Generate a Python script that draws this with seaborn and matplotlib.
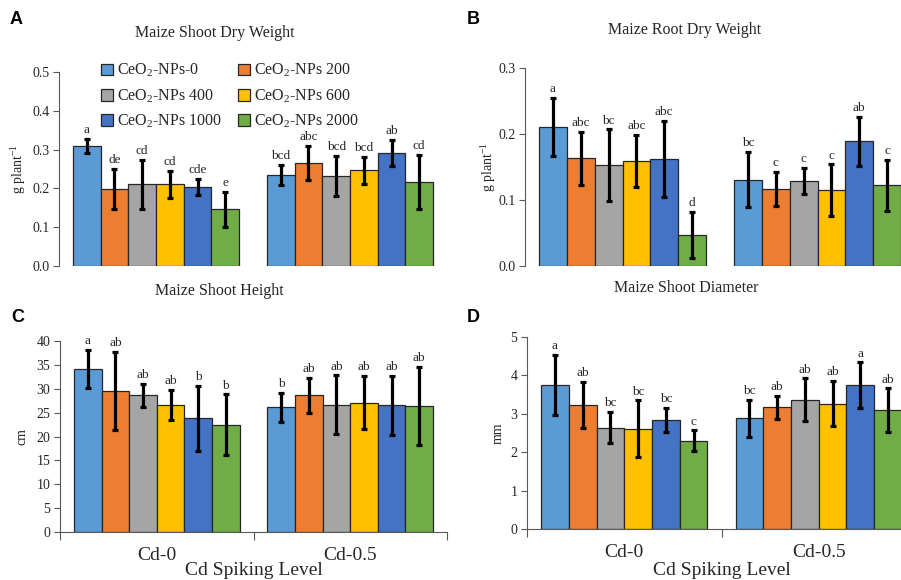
import numpy as np
import pandas as pd
import matplotlib
matplotlib.use("Agg")
import matplotlib.pyplot as plt
import matplotlib.transforms as mtransforms
import seaborn as sns

# ---- data -------------------------------------------------------------
cd_levels = ["Cd-0", "Cd-0.5"]
treatments = ["CeO$_2$-NPs-0", "CeO$_2$-NPs 200", "CeO$_2$-NPs 400",
              "CeO$_2$-NPs 600", "CeO$_2$-NPs 1000", "CeO$_2$-NPs 2000"]
colors = ["#5B9BD5", "#ED7D31", "#A5A5A5", "#FFC000", "#4472C4", "#70AD47"]

# values ordered Cd-0 (six treatments) then Cd-0.5 (six treatments)
shoot_dw_mean = [0.309, 0.199, 0.211, 0.211, 0.203, 0.146,
                 0.234, 0.265, 0.232, 0.247, 0.291, 0.216]
shoot_dw_err = [0.018, 0.051, 0.063, 0.035, 0.021, 0.046,
                0.026, 0.044, 0.052, 0.035, 0.034, 0.070]
shoot_dw_letters = ["a", "de", "cd", "cd", "cde", "e",
                    "bcd", "abc", "bcd", "bcd", "ab", "cd"]

root_dw_mean = [0.211, 0.163, 0.153, 0.159, 0.162, 0.047,
                0.131, 0.117, 0.129, 0.115, 0.189, 0.122]
root_dw_err = [0.044, 0.040, 0.054, 0.040, 0.058, 0.035,
               0.042, 0.026, 0.020, 0.039, 0.037, 0.039]
root_dw_letters = ["a", "abc", "bc", "abc", "abc", "d",
                   "bc", "c", "c", "c", "ab", "c"]

height_mean = [34.2, 29.6, 28.6, 26.6, 23.8, 22.5,
               26.1, 28.6, 26.7, 27.1, 26.5, 26.4]
height_err = [4.0, 8.2, 2.4, 3.2, 6.8, 6.3,
              3.1, 3.6, 6.1, 5.6, 6.2, 8.2]
height_letters = ["a", "ab", "ab", "ab", "b", "b",
                  "b", "ab", "ab", "ab", "ab", "ab"]

diam_mean = [3.76, 3.23, 2.64, 2.61, 2.84, 2.30,
             2.88, 3.17, 3.36, 3.26, 3.75, 3.09]
diam_err = [0.78, 0.61, 0.40, 0.74, 0.31, 0.27,
            0.49, 0.30, 0.56, 0.59, 0.59, 0.57]
diam_letters = ["a", "ab", "bc", "bc", "bc", "c",
                "bc", "ab", "ab", "ab", "a", "ab"]

# ---- style ------------------------------------------------------------
sns.set_style("ticks")
plt.rcParams["font.family"] = ["Liberation Serif", "DejaVu Serif"]
plt.rcParams["mathtext.fontset"] = "custom"
plt.rcParams["mathtext.rm"] = "Liberation Serif"
plt.rcParams["mathtext.it"] = "Liberation Serif:italic"
plt.rcParams["mathtext.bf"] = "Liberation Serif:bold"

W, H = 901, 580
fig = plt.figure(figsize=(W / 100, H / 100), dpi=100)


def px_axes(left, right, top, bottom):
    return fig.add_axes([left / W, 1 - bottom / H, (right - left) / W, (bottom - top) / H])


SPINE = "#595959"
TXT = "#262626"


def panel(ax, mean, err, letters, ylim, yticks, fmt, ylabel, ylabel_x, with_xaxis):
    df = pd.DataFrame({
        "Cd": np.repeat(cd_levels, len(treatments)),
        "Treatment": treatments * len(cd_levels),
        "value": mean,
        "err": err,
        "letter": letters,
    })
    sns.barplot(data=df, x="Cd", y="value", hue="Treatment",
                order=cd_levels, hue_order=treatments, palette=colors,
                saturation=1, width=0.856, gap=0, errorbar=None,
                edgecolor="#262626", linewidth=0.9, legend=False, ax=ax)
    bars = list(ax.containers)
    for container, trt in zip(bars, treatments):
        for bar, cd in zip(container, cd_levels):
            row = df[(df["Cd"] == cd) & (df["Treatment"] == trt)].iloc[0]
            xc = bar.get_x() + bar.get_width() / 2
            ax.errorbar(xc, row["value"], yerr=row["err"], fmt="none",
                        ecolor="black", elinewidth=2.3, capsize=2.0,
                        capthick=2.3, zorder=5)
            ax.annotate(row["letter"], (xc, row["value"] + row["err"]),
                        xytext=(0, 2), textcoords="offset points",
                        ha="center", va="bottom", fontsize=9.5, color=TXT)

    ax.set_xlim(-0.5, 1.5)
    ax.set_ylim(*ylim)
    ax.set_yticks(yticks)
    ax.set_yticklabels([fmt.format(v) for v in yticks])
    ax.tick_params(axis="y", direction="out", length=4, width=0.8,
                   color=SPINE, labelsize=10, labelcolor=TXT, pad=3)
    sns.despine(ax=ax)
    ax.spines["left"].set_color(SPINE)
    ax.spines["left"].set_linewidth(0.8)
    ax.set_ylabel(ylabel, fontsize=10, color=TXT)
    ax.yaxis.set_label_coords(ylabel_x / W, 0.5,
                              transform=mtransforms.blended_transform_factory(fig.transFigure, ax.transAxes))

    if with_xaxis:
        ax.spines["bottom"].set_color(SPINE)
        ax.spines["bottom"].set_linewidth(0.8)
        ax.set_xticks([-0.5, 0.5, 1.5])
        ax.set_xticklabels([])
        ax.set_xticks([0, 1], minor=True)
        ax.set_xticklabels(cd_levels, minor=True)
        ax.tick_params(axis="x", which="major", direction="out", length=6,
                       width=0.8, color=SPINE)
        ax.tick_params(axis="x", which="minor", length=0, labelsize=14,
                       labelcolor=TXT, pad=11)
        ax.set_xlabel("Cd Spiking Level", fontsize=14, color=TXT)
        ax.xaxis.set_label_coords(0.5, 5 / H,
                                  transform=mtransforms.blended_transform_factory(ax.transAxes, fig.transFigure))
        ax.xaxis.label.set_va("baseline")
    else:
        ax.spines["bottom"].set_visible(False)
        ax.set_xticks([])
        ax.set_xlabel("")
    return bars


# A: shoot dry weight
axA = px_axes(59, 447, 72, 266)
barsA = panel(axA, shoot_dw_mean, shoot_dw_err, shoot_dw_letters,
              (0, 0.5), [0.0, 0.1, 0.2, 0.3, 0.4, 0.5], "{:.1f}",
              "g plant$^{-1}$", 28, False)
order = [0, 2, 4, 1, 3, 5]
axA.legend([barsA[i].patches[0] for i in order], [treatments[i] for i in order],
           ncol=2, loc="upper left", bbox_to_anchor=(101 / W, 1 - 62 / H),
           bbox_transform=fig.transFigure, frameon=False, fontsize=11.5,
           handlelength=0.75, handleheight=0.75, handletextpad=0.25,
           labelspacing=0.5, columnspacing=1.0, borderpad=0, borderaxespad=0)

# B: root dry weight
axB = px_axes(525, 915, 68, 266)
panel(axB, root_dw_mean, root_dw_err, root_dw_letters,
      (0, 0.3), [0.0, 0.1, 0.2, 0.3], "{:.1f}",
      "g plant$^{-1}$", 498, False)

# C: shoot height
axC = px_axes(60, 447, 341, 532)
panel(axC, height_mean, height_err, height_letters,
      (0, 40), list(range(0, 41, 5)), "{:d}", "cm", 29, True)

# D: shoot diameter
axD = px_axes(527, 916, 337, 529)
panel(axD, diam_mean, diam_err, diam_letters,
      (0, 5), list(range(0, 6)), "{:d}", "mm", 505, True)

# panel titles
for x, y, t in [(215, 33, "Maize Shoot Dry Weight"), (685, 30, "Maize Root Dry Weight"),
                (219, 291, "Maize Shoot Height"), (686, 288, "Maize Shoot Diameter")]:
    fig.text(x / W, 1 - y / H, t, ha="center", va="center", fontsize=11.5, color=TXT)

# panel letters
for x, y, t in [(10, 19, "A"), (467, 19, "B"), (11, 318, "C"), (467, 318, "D")]:
    fig.text(x / W, 1 - y / H, t, ha="left", va="center", fontsize=13,
             fontweight="bold", family="Liberation Sans", color="black")

fig.savefig("out.png", dpi=100)
